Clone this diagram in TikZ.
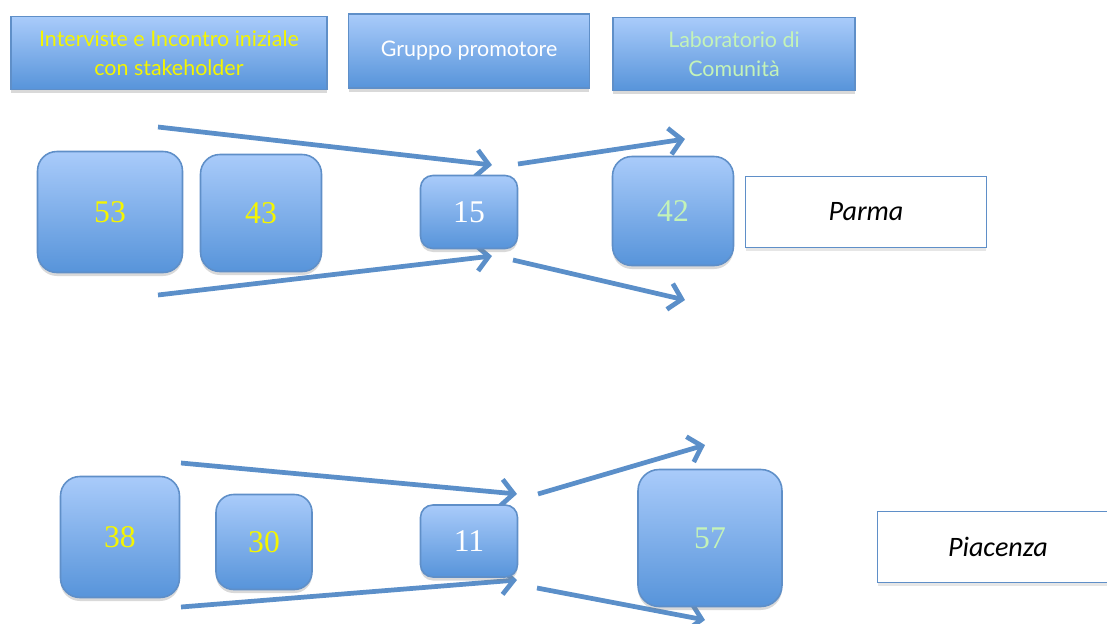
\documentclass[tikz,border=0pt]{standalone}
\usepackage{fontspec}
\newfontfamily\headfont{Lato}
\newfontfamily\cityfont{Carlito}
\newfontfamily\countfont{Liberation Serif}
\usetikzlibrary{arrows.meta,shadows}

\definecolor{BoxTop}{HTML}{A9CBFA}
\definecolor{BoxBottom}{HTML}{5794DA}
\definecolor{BoxEdge}{HTML}{5F8FC8}
\definecolor{ArrowBlue}{HTML}{5B8FC9}
\definecolor{TextYellow}{HTML}{F5F500}
\definecolor{TextGreen}{HTML}{C4F3B8}
\tikzstyle{head-box}=[rectangle, draw=BoxEdge, line width=0.9pt, top color=BoxTop, bottom color=BoxBottom, inner sep=0pt, align=center, font=\headfont\fontsize{12.2}{16.6}\selectfont, drop shadow={shadow xshift=0pt, shadow yshift=-2pt, opacity=0.3}]
\tikzstyle{count-box}=[rectangle, draw=BoxEdge, line width=0.9pt, top color=BoxTop, bottom color=BoxBottom, inner sep=0pt, font=\countfont\fontsize{18}{20}\selectfont, drop shadow={shadow xshift=0pt, shadow yshift=-2pt, opacity=0.3}]
\tikzstyle{city-box}=[rectangle, draw=BoxEdge, line width=1.1pt, fill=white, inner sep=0pt, font=\cityfont\itshape\fontsize{16}{18}\selectfont, drop shadow={shadow xshift=0pt, shadow yshift=-2pt, opacity=0.2}]
\tikzstyle{flow-arrow}=[ArrowBlue, line width=2.7pt, -{Straight Barb[length=7pt,width=15pt]}]

\begin{document}
\begin{tikzpicture}[x=0.02cm, y=-0.02cm]
      \useasboundingbox (0,0) rectangle (1107,623);

      \node (head-1) at (169, 53) [head-box, minimum width=6.32cm, minimum height=1.46cm, text=TextYellow] {Interviste e Incontro iniziale\\con stakeholder};
      \node (head-2) at (469, 51) [head-box, minimum width=4.82cm, minimum height=1.48cm, text=white] {Gruppo promotore};
      \node (head-3) at (734, 54) [head-box, minimum width=4.84cm, minimum height=1.46cm, text=TextGreen] {Laboratorio di\\Comunità};

      \coordinate (parma-a1) at (158, 127);
      \coordinate (parma-b1) at (492, 165);
      \coordinate (parma-a2) at (158, 295);
      \coordinate (parma-b2) at (492, 256);
      \coordinate (parma-a3) at (518, 164);
      \coordinate (parma-b3) at (685, 139);
      \coordinate (parma-a4) at (513, 260);
      \coordinate (parma-b4) at (685, 300);
      \draw [flow-arrow] (parma-a1) -- (parma-b1);
      \draw [flow-arrow] (parma-a2) -- (parma-b2);
      \draw [flow-arrow] (parma-a3) -- (parma-b3);
      \draw [flow-arrow] (parma-a4) -- (parma-b4);

      \node (parma-1) at (110, 212) [count-box, rounded corners=11pt, minimum width=2.90cm, minimum height=2.42cm, text=TextYellow] {53};
      \node (parma-2) at (261, 213) [count-box, rounded corners=11pt, minimum width=2.42cm, minimum height=2.34cm, text=TextYellow] {43};
      \node (parma-3) at (469, 212) [count-box, rounded corners=7pt,  minimum width=1.94cm, minimum height=1.46cm, text=white] {15};
      \node (parma-4) at (673, 211) [count-box, rounded corners=11pt, minimum width=2.42cm, minimum height=2.18cm, text=TextGreen] {42};
      \node (parma-city) at (866, 212) [city-box, minimum width=4.82cm, minimum height=1.42cm] {Parma};

      \coordinate (pc-a1) at (181, 463);
      \coordinate (pc-b1) at (517, 494);
      \coordinate (pc-a2) at (181, 607);
      \coordinate (pc-b2) at (517, 580);
      \coordinate (pc-a3) at (538, 494);
      \coordinate (pc-b3) at (705, 445);
      \coordinate (pc-a4) at (537, 588);
      \coordinate (pc-b4) at (705, 620);
      \draw [flow-arrow] (pc-a1) -- (pc-b1);
      \draw [flow-arrow] (pc-a2) -- (pc-b2);
      \draw [flow-arrow] (pc-a3) -- (pc-b3);
      \draw [flow-arrow] (pc-a4) -- (pc-b4);

      \node (pc-1) at (120, 537) [count-box, rounded corners=11pt, minimum width=2.38cm, minimum height=2.42cm, text=TextYellow] {38};
      \node (pc-2) at (264, 542) [count-box, rounded corners=10pt, minimum width=1.92cm, minimum height=1.90cm, text=TextYellow] {30};
      \node (pc-3) at (469, 541) [count-box, rounded corners=7pt,  minimum width=1.94cm, minimum height=1.44cm, text=white] {11};
      \node (pc-4) at (710, 538) [count-box, rounded corners=12pt, minimum width=2.88cm, minimum height=2.74cm, text=TextGreen] {57};
      \node (pc-city) at (998, 547) [city-box, minimum width=4.82cm, minimum height=1.42cm] {Piacenza};
    \end{tikzpicture}
\end{document}
